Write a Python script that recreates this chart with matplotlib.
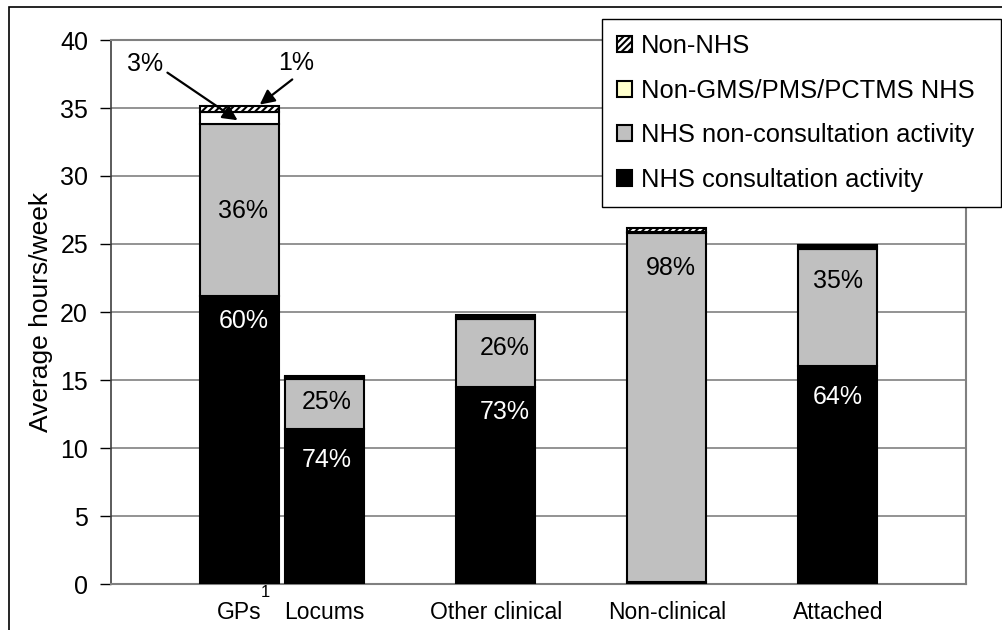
import matplotlib
matplotlib.use('Agg')
import matplotlib.pyplot as plt
from matplotlib.patches import Rectangle

plt.rcParams['font.family'] = ['Liberation Sans', 'DejaVu Sans']
plt.rcParams['hatch.linewidth'] = 1.5

# data (hours/week)
groups = ['GPs', 'Locums', 'Other clinical', 'Non-clinical', 'Attached']
xpos = [0.75, 1.25, 2.25, 3.25, 4.25]
nhs_consult = [21.2, 11.4, 14.5, 0.15, 16.0]
nhs_nonconsult = [12.65, 3.7, 5.0, 25.65, 8.65]
non_gms = [0.85, 0.12, 0.1, 0.1, 0.1]
non_nhs = [0.45, 0.1, 0.15, 0.3, 0.15]

consult_lbl = ['60%', '74%', '73%', '', '64%']
nonconsult_lbl = ['36%', '25%', '26%', '98%', '35%']
# label offsets below segment top, in pixels, and sideways shift
consult_off = [25, 31, 25, 0, 31]
nonconsult_off = [87, 23, 29, 35, 32]
lbl_dx = [4, 2, 9, 4, 0]

fig = plt.figure(figsize=(10.03, 6.3), dpi=100)
ax = fig.add_axes([111/1003, 46/630, 855/1003, 544/630])

w = 0.46
ec = 'black'
lw = 1.5
b1 = nhs_consult
b2 = [a + b for a, b in zip(b1, nhs_nonconsult)]
b3 = [a + b for a, b in zip(b2, non_gms)]

h1 = ax.bar(xpos, nhs_consult, w, color='black', edgecolor=ec, linewidth=lw,
            label='NHS consultation activity', zorder=3)
h2 = ax.bar(xpos, nhs_nonconsult, w, bottom=b1, color='#C0C0C0', edgecolor=ec,
            linewidth=lw, label='NHS non-consultation activity', zorder=3)
h3 = ax.bar(xpos, non_gms, w, bottom=b2, color='white', edgecolor=ec,
            linewidth=lw, label='Non-GMS/PMS/PCTMS NHS', zorder=3)
h4 = ax.bar(xpos, non_nhs, w, bottom=b3, color='white', edgecolor=ec,
            linewidth=lw, hatch='/////', label='Non-NHS', zorder=3)

# segment labels
for i, x in enumerate(xpos):
    if consult_lbl[i]:
        ax.annotate(consult_lbl[i], (x, b1[i]), xytext=(lbl_dx[i] * 0.72, -consult_off[i] * 0.72),
                    textcoords='offset points', ha='center', va='center',
                    color='white', fontsize=18, zorder=5)
    ax.annotate(nonconsult_lbl[i], (x, b2[i]), xytext=(lbl_dx[i] * 0.72, -nonconsult_off[i] * 0.72),
                textcoords='offset points', ha='center', va='center',
                color='black', fontsize=18, zorder=5)

# callouts for the thin GP segments
ax.text(0.2, 38.2, '3%', fontsize=18, ha='center', va='center')
ax.annotate('', xy=(0.74, 34.1), xytext=(0.33, 37.6),
            arrowprops=dict(arrowstyle='-|>', mutation_scale=22, lw=1.6, color='black',
                            shrinkA=0, shrinkB=0), zorder=6)
ax.text(1.08, 38.3, '1%', fontsize=18, ha='center', va='center')
ax.annotate('', xy=(0.87, 35.25), xytext=(1.06, 37.1),
            arrowprops=dict(arrowstyle='-|>', mutation_scale=22, lw=1.6, color='black',
                            shrinkA=0, shrinkB=0), zorder=6)

ax.set_xlim(0, 5)
ax.set_ylim(0, 40)
ax.set_yticks(range(0, 41, 5))
ax.tick_params(axis='y', labelsize=18, length=8, width=1, color='black', pad=8.5)
ax.set_xticks([])
ax.yaxis.grid(True, color='#808080', linewidth=1.2, zorder=0)
ax.set_axisbelow(True)
for s in ['top', 'right', 'bottom']:
    ax.spines[s].set_color('#808080')
    ax.spines[s].set_linewidth(1.5)
ax.spines['left'].set_color('#404040')
ax.spines['left'].set_linewidth(1.2)
ax.set_ylabel('Average hours/week', fontsize=19, labelpad=5)

# category labels under the axis
for i, x in enumerate(xpos):
    ax.text(x, -2.1, groups[i], fontsize=16.5, ha='center', va='center', clip_on=False)
ax.text(0.9, -0.6, '1', fontsize=12, ha='center', va='center', clip_on=False)

leg = fig.legend(handles=[h4, h3, h2, h1], loc='upper left', mode='expand',
                 bbox_to_anchor=(602/1003, 1 - 209/630, 399/1003, 190/630), fontsize=18.4,
                 frameon=True, fancybox=False, edgecolor='black', framealpha=1,
                 handlelength=0.58, handleheight=0.58, handletextpad=0.35,
                 labelspacing=0.8, borderpad=0.6, borderaxespad=0)
leg.get_frame().set_linewidth(1)
leg.legend_handles[1].set_facecolor('#FFFFCC')

# outer chart border
fig.add_artist(Rectangle((9/1003, -0.1), 1.2, 1.1 - 7/630, transform=fig.transFigure,
                         fill=False, edgecolor='black', linewidth=1.2, clip_on=False))

fig.savefig('out.png', dpi=100)
